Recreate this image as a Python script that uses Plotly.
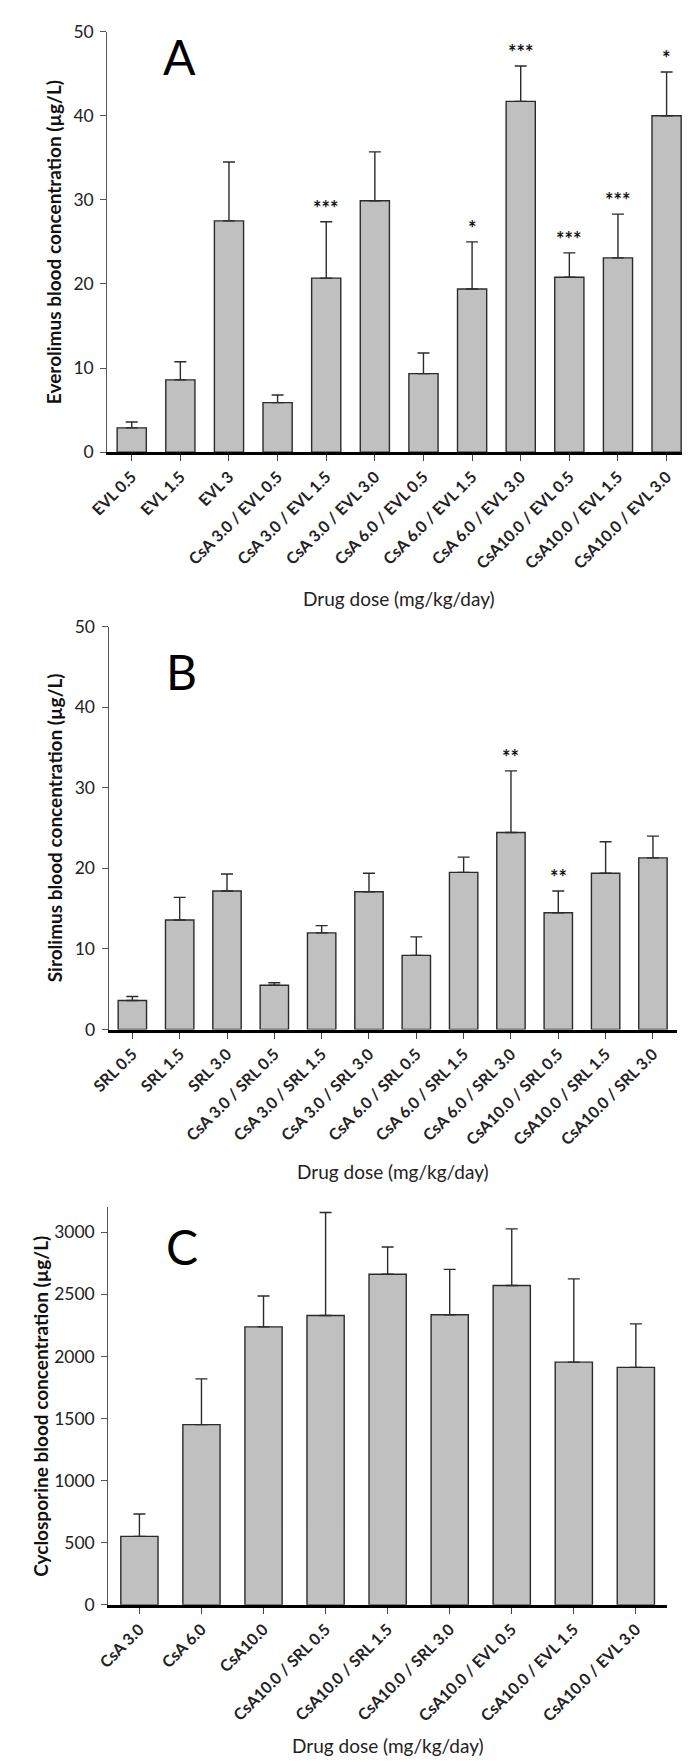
import plotly.graph_objects as go

# ---------------- data ----------------
cats_a = ["EVL 0.5", "EVL 1.5", "EVL 3", "CsA 3.0 / EVL 0.5", "CsA 3.0 / EVL 1.5",
          "CsA 3.0 / EVL 3.0", "CsA 6.0 / EVL 0.5", "CsA 6.0 / EVL 1.5", "CsA 6.0 / EVL 3.0",
          "CsA10.0 / EVL 0.5", "CsA10.0 / EVL 1.5", "CsA10.0 / EVL 3.0"]
mean_a = [2.9, 8.6, 27.5, 5.9, 20.7, 29.9, 9.35, 19.4, 41.7, 20.8, 23.1, 40.0]
sd_a = [0.7, 2.15, 7.0, 0.9, 6.7, 5.8, 2.45, 5.6, 4.2, 2.9, 5.2, 5.2]
sig_a = ["", "", "", "", "***", "", "", "*", "***", "***", "***", "*"]

cats_b = ["SRL 0.5", "SRL 1.5", "SRL 3.0", "CsA 3.0 / SRL 0.5", "CsA 3.0 / SRL 1.5",
          "CsA 3.0 / SRL 3.0", "CsA 6.0 / SRL 0.5", "CsA 6.0 / SRL 1.5", "CsA 6.0 / SRL 3.0",
          "CsA10.0 / SRL 0.5", "CsA10.0 / SRL 1.5", "CsA10.0 / SRL 3.0"]
mean_b = [3.6, 13.6, 17.2, 5.5, 12.0, 17.1, 9.2, 19.5, 24.45, 14.5, 19.4, 21.3]
sd_b = [0.5, 2.8, 2.1, 0.3, 0.9, 2.3, 2.3, 1.9, 7.65, 2.7, 3.9, 2.7]
sig_b = ["", "", "", "", "", "", "", "", "**", "**", "", ""]

cats_c = ["CsA 3.0", "CsA 6.0", "CsA10.0", "CsA10.0 / SRL 0.5", "CsA10.0 / SRL 1.5",
          "CsA10.0 / SRL 3.0", "CsA10.0 / EVL 0.5", "CsA10.0 / EVL 1.5", "CsA10.0 / EVL 3.0"]
mean_c = [551, 1451, 2238, 2330, 2661, 2336, 2571, 1954, 1912]
sd_c = [180, 368, 249, 829, 220, 365, 456, 670, 350]

ytitle_a = "Everolimus blood concentration (µg/L)"
ytitle_b = "Sirolimus blood concentration (µg/L)"
ytitle_c = "Cyclosporine blood concentration (µg/L)"
xtitle = "Drug dose (mg/kg/day)"
ticks_ab = [0, 10, 20, 30, 40, 50]
ticks_c = [0, 500, 1000, 1500, 2000, 2500, 3000]

# ---------------- layout geometry (pixels) ----------------
W, H = 690, 1761
FONT = "Lato"
BAR_FILL = "#c0c0c0"
DARK = "#2b2b2b"

panels = [
    dict(key="", cats=cats_a, mean=mean_a, sd=sd_a, sig=sig_a, yr=[0, 50], ticks=ticks_ab,
         xpx=(82.7, 682.7), ypx=(12.7, 438.5), ytitle=ytitle_a, ytx=28, xty=587,
         letter="A", lx=157, ly=37.5),
    dict(key="2", cats=cats_b, mean=mean_b, sd=sd_b, sig=sig_b, yr=[0, 50], ticks=ticks_ab,
         xpx=(84.0, 668.0), ypx=(615.0, 1022.7), ytitle=ytitle_b, ytx=28, xty=1166,
         letter="B", lx=159, ly=660),
    dict(key="3", cats=cats_c, mean=mean_c, sd=sd_c, sig=None, yr=[0, 3200], ticks=ticks_c,
         xpx=(83.7, 658.0), ypx=(1202.7, 1605.0), ytitle=ytitle_c, ytx=13, xty=1747,
         letter="C", lx=159, ly=1242),
]

fig = go.Figure()
annotations = []
layout = dict(width=W, height=H, margin=dict(l=0, r=0, t=0, b=0),
              paper_bgcolor="white", plot_bgcolor="white", showlegend=False)

for p in panels:
    k = p["key"]
    xa, ya = "x" + k, "y" + k
    fig.add_trace(go.Bar(
        x=p["cats"], y=p["mean"], xaxis=xa, yaxis=ya, width=0.6,
        marker=dict(color=BAR_FILL, line=dict(color=DARK, width=1.4)),
        error_y=dict(type="data", symmetric=False, array=p["sd"],
                     arrayminus=[0] * len(p["sd"]), color=DARK, thickness=1.4, width=6),
        hoverinfo="x+y",
    ))
    n = len(p["cats"])
    x0, x1 = p["xpx"]
    y0, y1 = p["ypx"]
    layout["xaxis" + k] = dict(
        domain=[x0 / W, x1 / W], anchor=ya, type="category", range=[-0.5, n - 0.5],
        showline=True, linecolor="#000000", linewidth=3, mirror=False,
        ticks="outside", ticklen=6, tickwidth=1.3, tickcolor="#444444",
        tickangle=-45, showgrid=False, zeroline=False,
        tickfont=dict(family=FONT, size=16, color="#222222", weight="bold"),
    )
    layout["yaxis" + k] = dict(
        domain=[1 - y1 / H, 1 - y0 / H], anchor=xa, range=p["yr"], tickvals=p["ticks"],
        showline=True, linecolor="#555555", linewidth=1.3,
        ticks="outside", ticklen=6, tickwidth=1.3, tickcolor="#555555",
        showgrid=False, zeroline=False, ticklabelstandoff=3,
        tickfont=dict(family=FONT, size=17.5, color="#222222"),
    )
    # axis titles
    annotations.append(dict(
        text=p["ytitle"], xref="paper", yref="paper", x=p["ytx"] / W,
        y=1 - (y0 + y1) / 2 / H, textangle=-90, showarrow=False,
        xanchor="center", yanchor="middle",
        font=dict(family=FONT, size=19, color="#111111", weight="bold")))
    annotations.append(dict(
        text=xtitle, xref="paper", yref="paper", x=(x0 + x1) / 2 / W,
        y=1 - p["xty"] / H, showarrow=False, xanchor="center", yanchor="middle",
        font=dict(family=FONT, size=19, color="#222222")))
    # panel letter
    annotations.append(dict(
        text=p["letter"], xref="paper", yref="paper", x=p["lx"] / W, y=1 - p["ly"] / H,
        showarrow=False, xanchor="center", yanchor="middle",
        font=dict(family=FONT, size=48, color="#000000")))
    # significance marks
    if p["sig"]:
        for c, m, s, g in zip(p["cats"], p["mean"], p["sd"], p["sig"]):
            if g:
                annotations.append(dict(
                    text=g, xref=xa, yref=ya, x=c, y=m + s, showarrow=False,
                    xanchor="center", yanchor="bottom", yshift=0,
                    font=dict(family=FONT, size=20, color="#111111", weight="bold")))

layout["annotations"] = annotations
fig.update_layout(**layout)
fig.write_html("out.html")
